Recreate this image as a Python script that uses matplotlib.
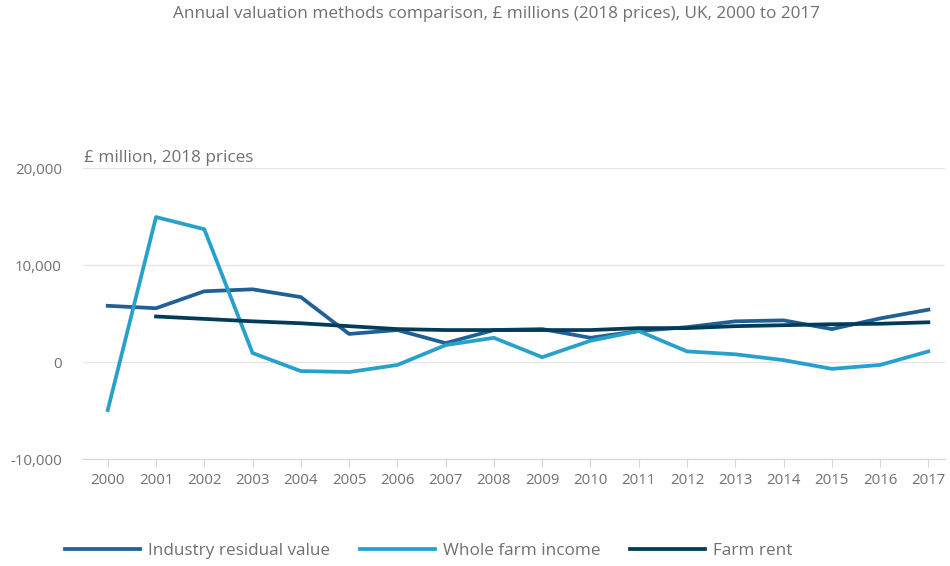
import numpy as np
import matplotlib
matplotlib.use("Agg")
import matplotlib.pyplot as plt

plt.rcParams['font.family'] = ['Open Sans', 'DejaVu Sans']

# 数据（从图中读取，£ million, 2018 prices）
years = list(range(2000, 2018))
industry_residual = [5800, 5550, 7300, 7500, 6700, 2900, 3300, 1950, 3300, 3400,
                     2500, 3200, 3600, 4200, 4300, 3400, 4500, 5400]
whole_farm_income = [-4950, 14950, 13700, 930, -930, -1030, -300, 1750, 2500, 500,
                     2200, 3200, 1100, 800, 200, -700, -300, 1100]
rent_years = list(range(2001, 2018))
farm_rent = [4700, 4450, 4200, 4000, 3700, 3400, 3300, 3300, 3300, 3300,
             3500, 3500, 3700, 3800, 3900, 3950, 4100]

series_names = ['Industry residual value', 'Whole farm income', 'Farm rent']
colors = ['#206095', '#27a0cc', '#003c57']
text_grey = '#707070'

fig = plt.figure(figsize=(9.5, 5.66), dpi=100)
ax = fig.add_axes([0.087, 0.189, 0.908, 0.514])

ax.plot(years, industry_residual, color=colors[0], lw=2.7, label=series_names[0])
ax.plot(years, whole_farm_income, color=colors[1], lw=2.7, label=series_names[1])
ax.plot(rent_years, farm_rent, color=colors[2], lw=2.7, label=series_names[2])

ax.set_xlim(1999.48, 2017.35)
ax.set_ylim(-10000, 20000)
ax.set_yticks([-10000, 0, 10000, 20000])
ax.set_yticklabels(['-10,000', '0', '10,000', '20,000'])
ax.set_xticks(years)
ax.set_xticklabels([str(y) for y in years])

ax.grid(axis='y', color='#e6e6e6', lw=1)
ax.set_axisbelow(True)
for s in ['top', 'right', 'left']:
    ax.spines[s].set_visible(False)
ax.spines['bottom'].set_color('#ccd6e6')
ax.tick_params(axis='y', length=0, pad=15, labelsize=10.8, labelcolor=text_grey)
ax.tick_params(axis='x', length=6, color='#ccd6e6', pad=4, labelsize=10.8,
               labelcolor=text_grey)

fig.text(0.088, 1 - 158 / 566, '£ million, 2018 prices', fontsize=12.3,
         color=text_grey, va='center', ha='left')
fig.text(0.523, 1 - 14 / 566,
         'Annual valuation methods comparison, £ millions (2018 prices), UK, 2000 to 2017',
         fontsize=12.3, color=text_grey, ha='center', va='center')

fig.legend(loc='center left', bbox_to_anchor=(0.052, 1 - 551 / 566), ncol=3,
           frameon=False, fontsize=12.3, labelcolor=text_grey, handlelength=4.4,
           columnspacing=1.7, handletextpad=0.5)

fig.savefig('out.png', dpi=100)
